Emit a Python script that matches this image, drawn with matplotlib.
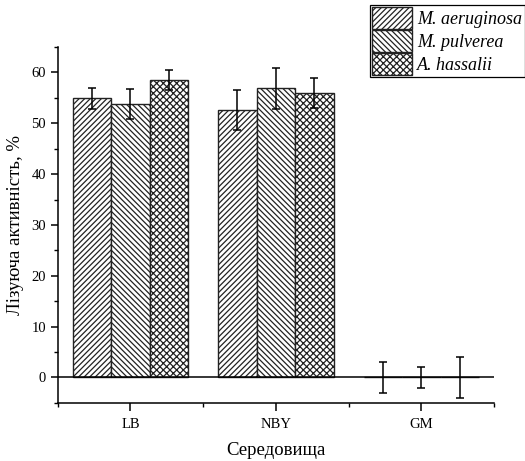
import numpy as np
import matplotlib.pyplot as plt
from matplotlib.ticker import FixedLocator, NullFormatter

media = ['LB', 'NBY', 'GM']
species = ['M. aeruginosa', 'M. pulverea', 'A. hassalii']
lysis = [[54.9, 52.6, 0.0],
         [53.8, 56.9, 0.0],
         [58.5, 56.0, 0.0]]
errors = [[2, 4, 3],
          [3, 4, 2],
          [2, 3, 4]]
hatches = ['//////', '\\\\\\\\\\\\', 'xxxxx']

plt.rcParams['font.family'] = ['Liberation Serif', 'DejaVu Serif']
plt.rcParams['hatch.linewidth'] = 0.9

fig = plt.figure(figsize=(5.25, 4.61), dpi=100)
ax = fig.add_axes([0.110, 0.126, 0.831, 0.772])

x = np.arange(1, len(media) + 1)
w = 0.265
for i in range(len(species)):
    ax.bar(x + (i - 1) * w, lysis[i], w, color='white', edgecolor='#222222',
           linewidth=1.0, hatch=hatches[i], label=species[i])
    ax.errorbar(x + (i - 1) * w, lysis[i], yerr=errors[i], fmt='none',
                ecolor='black', elinewidth=1.1, capsize=2.8, capthick=1.1)

ax.axhline(0, color='black', linewidth=1.1)

ax.set_xlim(0.5, 3.5)
ax.set_ylim(-5, 65)
ax.set_xticks(x)
ax.set_xticklabels(media)
ax.xaxis.set_minor_locator(FixedLocator([0.5, 1.5, 2.5, 3.5]))
ax.xaxis.set_minor_formatter(NullFormatter())
ax.yaxis.set_major_locator(FixedLocator([0, 10, 20, 30, 40, 50, 60]))
ax.yaxis.set_minor_locator(FixedLocator([-5, 5, 15, 25, 35, 45, 55, 65]))

ax.spines['top'].set_visible(False)
ax.spines['right'].set_visible(False)
ax.spines['left'].set_linewidth(1.1)
ax.spines['bottom'].set_linewidth(1.1)
ax.tick_params(axis='both', which='major', direction='out', length=5, width=1.1,
               labelsize=10.5)
ax.tick_params(axis='both', which='minor', direction='out', length=3, width=1.0)
ax.tick_params(axis='x', which='major', length=6, pad=5)

ax.set_xlabel('Середовища', fontsize=13.5, labelpad=8)
ax.set_ylabel('Лізуюча активність, %', fontsize=13.5, labelpad=5)

leg = fig.legend(loc='upper left', bbox_to_anchor=(0.705, 0.989),
                 bbox_transform=fig.transFigure, prop={'style': 'italic', 'size': 13},
                 fancybox=False, framealpha=1, edgecolor='black',
                 handlelength=2.2, handleheight=1.5, handletextpad=0.3,
                 labelspacing=0.05, borderpad=0.12, borderaxespad=0)
leg.get_frame().set_linewidth(0.9)

fig.savefig('out.png', dpi=100)
